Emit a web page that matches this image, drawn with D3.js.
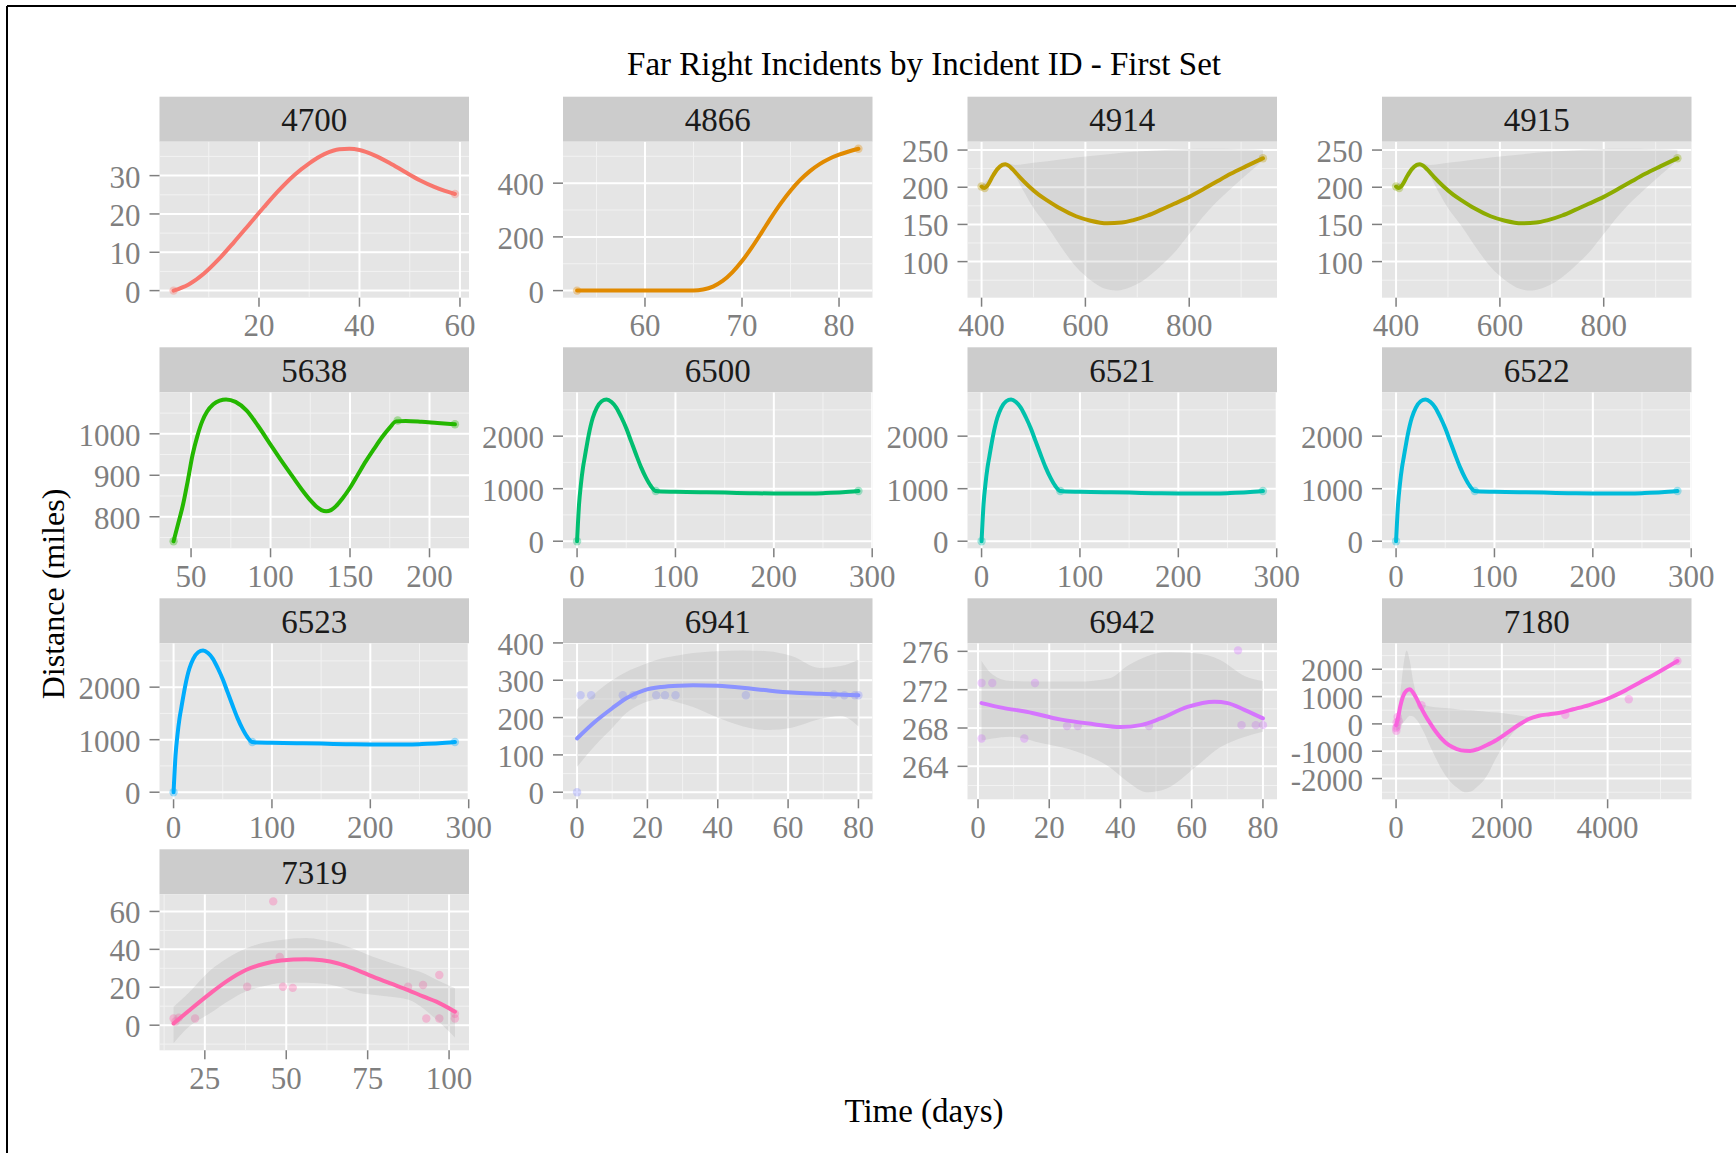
<!DOCTYPE html>
<html>
<head>
<meta charset="utf-8">
<script src="https://cdn.jsdelivr.net/npm/d3@7"></script>
<style>
  body { margin: 0; background: #ffffff; }
  svg text { font-family: "Liberation Serif", "DejaVu Serif", serif; }
</style>
</head>
<body>
<svg id="chart" width="1736" height="1153"></svg>
<script>
// ---------------- DATA ----------------
const chartTitle = "Far Right Incidents by Incident ID - First Set";
const xTitle = "Time (days)";
const yTitle = "Distance (miles)";

const incidentIds = ["4700","4866","4914","4915","5638","6500","6521","6522","6523","6941","6942","7180","7319"];
const incidentColors = ["#F8766D","#E18A00","#BE9C00","#8CAB00","#24B700","#00BE70","#00C1AB","#00BBDA","#00ACFC","#8B93FF","#D575FE","#F962DD","#FF65AC"];

// smoothed curves [x, y]
const curve4700 = [[3,0],[6,1.6],[9,4.4],[12,8.2],[15,12.6],[18,17.2],[21,21.8],[24,26.2],[27,30.1],[30,33.2],[33,35.6],[36,36.9],[38,37.0],[40,36.7],[43,35.3],[46,33.3],[49,31.0],[52,28.8],[55,27.0],[57,26.0],[59,25.2]];
const curve4866 = [[53,0],[56,0],[59,0],[62,0],[65,0],[66,4],[67,15],[68,36],[69,68],[70,110],[71,160],[72,215],[73,272],[74,325],[75,372],[76,412],[77,445],[78,471],[79,491],[80,506],[81,518],[82,528]];
const curve4914 = [[400,201],[405,199],[412,203],[420,213],[430,224],[440,230],[446,231],[452,229],[460,224],[473,214],[490,202],[510,190],[527,182],[550,172],[582,161],[610,155],[642,151.5],[670,152.5],[691,155.5],[720,162],[745,169.5],[770,177.5],[800,187],[830,198.5],[854,208],[880,218],[909,228],[942,239]];
const curve4915 = curve4914;
const curve5638 = [[39,741],[42,785],[45,830],[48,888],[51,950],[54,995],[57,1030],[60,1053],[64,1071],[68,1080],[72,1083],[78,1077],[85,1056],[92,1020],[100,974],[107,934],[114,896],[120,864],[125,840],[129,824],[132,816],[135,813],[138,816],[141,825],[145,843],[150,870],[155,902],[160,934],[165,963],[170,991],[175,1015],[179,1030],[185,1031],[195,1029],[205,1026],[216,1023]];
const curve6500 = [[0,0],[2,700],[4,1100],[6,1400],[8,1620],[12,2040],[16,2350],[20,2540],[25,2665],[30,2700],[35,2650],[40,2540],[45,2360],[50,2150],[55,1900],[60,1650],[65,1410],[70,1210],[75,1050],[80,955],[85,945],[100,940],[125,932],[150,925],[175,915],[200,908],[225,906],[250,915],[270,930],[286,955]];
const curve6521 = curve6500;
const curve6522 = curve6500;
const curve6523 = curve6500;
const curve6941 = [[0,144],[5,188],[10,225],[14,252],[19,273],[24,282],[29,285.5],[33,286.5],[40,285],[47,280],[54,273],[61,267],[69,263.5],[76,261],[80,260]];
const curve6942 = [[1,270.6],[7,270.1],[13.6,269.7],[23,268.9],[32.5,268.4],[40,268.1],[45.6,268.3],[51.3,269],[58.8,270.2],[66.4,270.75],[70.1,270.6],[74.8,269.9],[80,269]];
const curve7180 = [[0,-50],[40,250],[80,650],[130,1000],[200,1220],[260,1270],[320,1150],[400,880],[460,640],[550,320],[650,10],[750,-280],[850,-520],[1000,-780],[1150,-920],[1300,-985],[1400,-990],[1550,-920],[1700,-790],[1900,-590],[2100,-330],[2300,-60],[2500,170],[2700,300],[2900,355],[3100,410],[3350,535],[3650,690],[4000,920],[4300,1190],[4600,1510],[4950,1880],[5320,2300]];
const curve7319 = [[15.4,0.9],[20,7.5],[26.7,16.8],[32,23.5],[37.6,29.1],[43,32.3],[48.4,34.1],[56,34.8],[61,34.2],[65.7,32.7],[71,29.6],[76.6,25.6],[82,22],[87.4,18.5],[92,15.2],[96.1,12.4],[101.8,7.1]];

// confidence ribbons [x, low, high]
const ribbon4914 = [[400,199,203],[420,211,215],[440,228,232],[452,227,232],[465,215,230],[480,196,231],[500,172,233],[527,147,235],[555,118,237.5],[582,93,240],[610,75,242],[640,63,244],[658,61,245.5],[680,64,247],[710,74,248.5],[745,94,249.8],[775,115,250.8],[800,137,251.3],[830,163,251.6],[854,181,251.7],[880,198,251.5],[909,216,251],[942,236,250]];
const ribbon4915 = ribbon4914;
const ribbon6941 = [[0,68,222],[5,124,264],[10,172,300],[14,212,322],[19,240,342],[24,250,358],[29,240,367],[33,228,373],[40,200,378],[47,177,380],[54,167,378],[61,173,365],[69,196,333],[75,204,338],[80,176,355]];
const ribbon6942 = [[1,266.7,275],[4,266.9,273.6],[9,267.1,272.9],[18,266.4,272.85],[28,265.5,272.85],[37,263.9,273.2],[42,262.4,274.5],[47.5,261.3,275.5],[53,261.7,275.9],[61,263.9,275.8],[68,266,275.1],[75,267.1,273.4],[80,267.6,272.9]];
const ribbon7180 = [[0,-250,60],[40,-200,400],[80,-120,1100],[130,20,2000],[200,200,2690],[260,300,2300],[320,280,1600],[400,120,1000],[460,-60,760],[550,-400,680],[650,-850,640],[750,-1250,610],[850,-1620,590],[1000,-2050,570],[1150,-2330,540],[1300,-2500,510],[1400,-2480,495],[1550,-2270,470],[1700,-1950,445],[1900,-1220,415],[2100,-600,375],[2300,-150,320],[2500,120,260],[2700,260,340],[2900,320,390],[3100,380,440],[3350,500,570],[3650,650,730],[4000,880,960],[4300,1150,1230],[4600,1470,1550],[4950,1830,1930],[5320,2230,2370]];
const ribbon7319 = [[15.4,-9.5,9.7],[20,-1,17],[26.7,6.4,29],[32,12.5,35.5],[37.6,17.8,40.5],[43,20.5,43.5],[48.4,22.2,45],[56,22.4,46],[61,22,45],[65.7,20.5,43.2],[71,17.5,40],[76.6,16,36.1],[82,15,33],[87.4,13.5,30],[92,9,27.5],[96.1,3,24],[101.8,-6.5,19.5]];

// observed points [x, y]
const points4700 = [[3,0],[59,25.2]];
const points4866 = [[53,0],[82,528]];
const points4914 = [[400,201],[406,199],[942,239]];
const points4915 = points4914;
const points5638 = [[39,741],[180,1032],[216,1023]];
const points6500 = [[0,0],[80,955],[286,955]];
const points6521 = points6500;
const points6522 = points6500;
const points6523 = points6500;
const points6941 = [[0,0],[1,260],[4,260],[13,260],[16,260],[22.5,260],[25,260],[28,260],[48,260],[73,262],[76,260],[79,260],[80,260]];
const points6942 = [[1,272.7],[4,272.7],[16,272.7],[1,266.9],[13,266.9],[25,268.2],[28,268.2],[48,268.2],[73,276.1],[74,268.3],[78,268.3],[80,268.3]];
const points7180 = [[0,-150],[5,-250],[10,50],[20,-100],[30,250],[50,100],[480,680],[3200,330],[4400,900],[5320,2300]];
const points7319 = [[15.4,3.5],[16,2],[17,4],[22,3.5],[38,20.3],[46,65.3],[48,36],[49,20.3],[52,19.7],[87.4,20.3],[92,21.2],[93,3.5],[97,26.5],[97,3.5],[101.8,3.5],[101.8,6]];

// tick values
const xTicks4700 = [20,40,60],        yTicks4700 = [0,10,20,30];
const xTicks4866 = [60,70,80],        yTicks4866 = [0,200,400];
const xTicks4914 = [400,600,800],     yTicks4914 = [100,150,200,250];
const xTicks5638 = [50,100,150,200],  yTicks5638 = [800,900,1000];
const xTicks6500 = [0,100,200,300],   yTicks6500 = [0,1000,2000];
const xTicks6941 = [0,20,40,60,80],   yTicks6941 = [0,100,200,300,400];
const xTicks6942 = [0,20,40,60,80],   yTicks6942 = [264,268,272,276];
const xTicks7180 = [0,2000,4000],     yTicks7180 = [-2000,-1000,0,1000,2000];
const xTicks7319 = [25,50,75,100],    yTicks7319 = [0,20,40,60];

const panelData = [
  {curve: curve4700, ribbon: null,       points: points4700, xt: xTicks4700, yt: yTicks4700},
  {curve: curve4866, ribbon: null,       points: points4866, xt: xTicks4866, yt: yTicks4866},
  {curve: curve4914, ribbon: ribbon4914, points: points4914, xt: xTicks4914, yt: yTicks4914},
  {curve: curve4915, ribbon: ribbon4915, points: points4915, xt: xTicks4914, yt: yTicks4914},
  {curve: curve5638, ribbon: null,       points: points5638, xt: xTicks5638, yt: yTicks5638},
  {curve: curve6500, ribbon: null,       points: points6500, xt: xTicks6500, yt: yTicks6500},
  {curve: curve6521, ribbon: null,       points: points6521, xt: xTicks6500, yt: yTicks6500},
  {curve: curve6522, ribbon: null,       points: points6522, xt: xTicks6500, yt: yTicks6500},
  {curve: curve6523, ribbon: null,       points: points6523, xt: xTicks6500, yt: yTicks6500},
  {curve: curve6941, ribbon: ribbon6941, points: points6941, xt: xTicks6941, yt: yTicks6941},
  {curve: curve6942, ribbon: ribbon6942, points: points6942, xt: xTicks6942, yt: yTicks6942},
  {curve: curve7180, ribbon: ribbon7180, points: points7180, xt: xTicks7180, yt: yTicks7180},
  {curve: curve7319, ribbon: ribbon7319, points: points7319, xt: xTicks7319, yt: yTicks7319}
];

// ---------------- LAYOUT ----------------
const colLeft = [159.5, 563, 967.5, 1382];
const rowTop = [96.7, 347.3, 598.3, 849.3];
const panelW = 309.5, stripH = 45, panelH = 156;

const svg = d3.select("#chart");
svg.append("rect").attr("width", 1736).attr("height", 1153).attr("fill", "#ffffff");

// frame lines (left and top)
svg.append("line").attr("x1", 7).attr("x2", 7).attr("y1", 6).attr("y2", 1153).attr("stroke", "#000").attr("stroke-width", 2);
svg.append("line").attr("x1", 7).attr("x2", 1736).attr("y1", 6).attr("y2", 6).attr("stroke", "#000").attr("stroke-width", 2);

svg.append("text").attr("x", 924).attr("y", 75).attr("text-anchor", "middle")
  .attr("font-size", 33).attr("fill", "#000").text(chartTitle);
svg.append("text").attr("x", 924).attr("y", 1122).attr("text-anchor", "middle")
  .attr("font-size", 33).attr("fill", "#000").text(xTitle);
svg.append("text").attr("transform", "translate(63.5,594) rotate(-90)").attr("text-anchor", "middle")
  .attr("font-size", 32).attr("fill", "#000").text(yTitle);

function expand([a, b]) { const d = b - a; return [a - 0.05 * d, b + 0.05 * d]; }
function minorBreaks(ticks, domain) {
  const step = ticks[1] - ticks[0];
  const ext = [ticks[0] - step, ...ticks, ticks[ticks.length - 1] + step];
  const out = [];
  for (let i = 0; i < ext.length - 1; i++) {
    const m = (ext[i] + ext[i + 1]) / 2;
    if (m >= domain[0] && m <= domain[1]) out.push(m);
  }
  return out;
}

panelData.forEach((p, i) => {
  const col = i % 4, row = Math.floor(i / 4);
  const x0 = colLeft[col], x1 = x0 + panelW;
  const sTop = rowTop[row], pTop = sTop + stripH, pBot = pTop + panelH;
  const color = incidentColors[i];

  const xs = [], ys = [];
  p.curve.forEach(d => { xs.push(d[0]); ys.push(d[1]); });
  p.points.forEach(d => { xs.push(d[0]); ys.push(d[1]); });
  if (p.ribbon) p.ribbon.forEach(d => { xs.push(d[0]); ys.push(d[1], d[2]); });
  const xDom = expand(d3.extent(xs)), yDom = expand(d3.extent(ys));
  const x = d3.scaleLinear().domain(xDom).range([x0, x1]);
  const y = d3.scaleLinear().domain(yDom).range([pBot, pTop]);

  const g = svg.append("g");
  // strip
  g.append("rect").attr("x", x0).attr("y", sTop).attr("width", panelW).attr("height", stripH).attr("fill", "#CCCCCC");
  g.append("text").attr("x", (x0 + x1) / 2).attr("y", sTop + 34.5).attr("text-anchor", "middle")
    .attr("font-size", 33).attr("fill", "#1A1A1A").text(incidentIds[i]);
  // panel
  g.append("rect").attr("x", x0).attr("y", pTop).attr("width", panelW).attr("height", panelH).attr("fill", "#E5E5E5");

  const clipId = "clip" + i;
  svg.append("clipPath").attr("id", clipId).append("rect")
    .attr("x", x0).attr("y", pTop).attr("width", panelW).attr("height", panelH);
  const pg = g.append("g").attr("clip-path", `url(#${clipId})`);

  // minor grid
  minorBreaks(p.xt, xDom).forEach(v => pg.append("line").attr("x1", x(v)).attr("x2", x(v)).attr("y1", pTop).attr("y2", pBot).attr("stroke", "#F2F2F2").attr("stroke-width", 1));
  minorBreaks(p.yt, yDom).forEach(v => pg.append("line").attr("y1", y(v)).attr("y2", y(v)).attr("x1", x0).attr("x2", x1).attr("stroke", "#F2F2F2").attr("stroke-width", 1));
  // major grid
  p.xt.forEach(v => pg.append("line").attr("x1", x(v)).attr("x2", x(v)).attr("y1", pTop).attr("y2", pBot).attr("stroke", "#FFFFFF").attr("stroke-width", 2));
  p.yt.forEach(v => pg.append("line").attr("y1", y(v)).attr("y2", y(v)).attr("x1", x0).attr("x2", x1).attr("stroke", "#FFFFFF").attr("stroke-width", 2));

  // points
  pg.selectAll(null).data(p.points).join("circle")
    .attr("cx", d => x(d[0])).attr("cy", d => y(d[1])).attr("r", 4.2)
    .attr("fill", color).attr("fill-opacity", 0.35);

  // ribbon
  if (p.ribbon) {
    const area = d3.area().x(d => x(d[0])).y0(d => y(d[1])).y1(d => y(d[2])).curve(d3.curveMonotoneX);
    pg.append("path").attr("d", area(p.ribbon)).attr("fill", "#999999").attr("fill-opacity", 0.2);
  }
  // smooth line
  const line = d3.line().x(d => x(d[0])).y(d => y(d[1])).curve(d3.curveMonotoneX);
  pg.append("path").attr("d", line(p.curve)).attr("fill", "none").attr("stroke", color)
    .attr("stroke-width", 4).attr("stroke-linecap", "round").attr("stroke-linejoin", "round");

  // axes ticks + labels
  p.yt.forEach(v => {
    g.append("line").attr("x1", x0 - 10).attr("x2", x0).attr("y1", y(v)).attr("y2", y(v)).attr("stroke", "#7F7F7F").attr("stroke-width", 1.5);
    g.append("text").attr("x", x0 - 19).attr("y", y(v) + 12).attr("text-anchor", "end")
      .attr("font-size", 31).attr("fill", "#7F7F7F").text(String(v));
  });
  p.xt.forEach(v => {
    g.append("line").attr("x1", x(v)).attr("x2", x(v)).attr("y1", pBot).attr("y2", pBot + 9).attr("stroke", "#7F7F7F").attr("stroke-width", 1.5);
    g.append("text").attr("x", x(v)).attr("y", pBot + 38.5).attr("text-anchor", "middle")
      .attr("font-size", 31).attr("fill", "#7F7F7F").text(String(v));
  });
});
</script>
</body>
</html>
